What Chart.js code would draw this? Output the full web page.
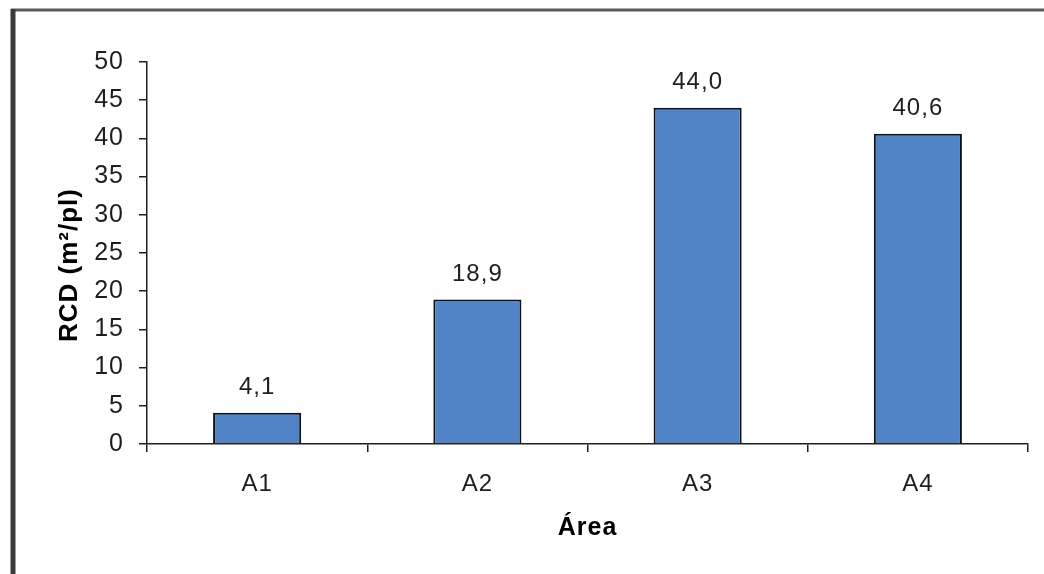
<!DOCTYPE html>
<html>
<head>
<meta charset="utf-8">
<script src="https://cdn.jsdelivr.net/npm/chart.js@4/dist/chart.umd.min.js"></script>
<style>
  html, body { margin: 0; padding: 0; background: #fff; }
  #wrap { position: relative; width: 1044px; height: 574px; }
</style>
</head>
<body>
<div id="wrap"><canvas id="c" width="1044" height="574"></canvas></div>
<script>
// Áreas avaliadas e respectivos valores de RCD (m²/pl)
const areas = ['A1', 'A2', 'A3', 'A4'];
const rcdValues = [4.1, 18.9, 44.0, 40.6];
const yTicks = [0, 5, 10, 15, 20, 25, 30, 35, 40, 45, 50];
const yTitle = 'RCD (m²/pl)';
const xTitle = 'Área';

const FONT = '"Liberation Sans", Arial, sans-serif';
const INK = '#1e1e1e';

// Moldura do gráfico (bordas superior e esquerda) e espaçamento do texto
const framePlugin = {
  id: 'frame',
  beforeDraw(chart) {
    const ctx = chart.ctx;
    ctx.save();
    ctx.fillStyle = '#fff';
    ctx.fillRect(0, 0, chart.width, chart.height);
    ctx.strokeStyle = '#5a5a5a';
    ctx.lineWidth = 3;
    ctx.beginPath();
    ctx.moveTo(11, 10);
    ctx.lineTo(chart.width, 10);
    ctx.stroke();
    ctx.strokeStyle = '#3a3a3a';
    ctx.lineWidth = 5;
    ctx.beginPath();
    ctx.moveTo(13, 9);
    ctx.lineTo(13, chart.height);
    ctx.stroke();
    ctx.restore();
    ctx.letterSpacing = '1px';
  }
};

// Título do eixo Y, girado
const yTitlePlugin = {
  id: 'yTitle',
  afterDraw(chart) {
    const ctx = chart.ctx;
    ctx.save();
    ctx.translate(70, 265);
    ctx.rotate(-Math.PI / 2);
    ctx.font = 'bold 26px ' + FONT;
    ctx.fillStyle = '#000';
    ctx.textAlign = 'center';
    ctx.textBaseline = 'middle';
    ctx.fillText(yTitle, 0, 0);
    ctx.restore();
  }
};

// Rótulos de valor acima de cada barra, com vírgula decimal
const valueLabels = {
  id: 'valueLabels',
  afterDatasetsDraw(chart) {
    const ctx = chart.ctx;
    const meta = chart.getDatasetMeta(0);
    ctx.save();
    ctx.font = '24px ' + FONT;
    ctx.fillStyle = INK;
    ctx.textAlign = 'center';
    ctx.textBaseline = 'middle';
    meta.data.forEach((bar, i) => {
      const v = chart.data.datasets[0].data[i];
      ctx.fillText(v.toFixed(1).replace('.', ','), bar.x, bar.y - 25);
    });
    ctx.restore();
  }
};

new Chart(document.getElementById('c'), {
  type: 'bar',
  data: {
    labels: areas,
    datasets: [{
      data: rcdValues,
      backgroundColor: '#5084c6',
      borderColor: '#111',
      borderWidth: 2,
      borderSkipped: 'bottom',
      barPercentage: 0.8,
      categoryPercentage: 0.5
    }]
  },
  options: {
    responsive: false,
    animation: false,
    events: [],
    layout: { padding: { top: 62, right: 16, left: 14, bottom: 0 } },
    plugins: { legend: { display: false }, tooltip: { enabled: false } },
    scales: {
      y: {
        min: 0,
        max: 50,
        afterBuildTicks(scale) { scale.ticks = yTicks.map(v => ({ value: v })); },
        afterFit(scale) { scale.width = 133; },
        border: { color: INK, width: 1.5 },
        grid: { drawOnChartArea: false, drawTicks: true, tickLength: 8, color: INK, lineWidth: 1.5 },
        ticks: { font: { family: FONT, size: 25 }, color: INK, padding: 15 }
      },
      x: {
        offset: true,
        afterFit(scale) { scale.height = 130; },
        border: { color: INK, width: 1.5 },
        grid: { offset: true, drawOnChartArea: false, drawTicks: true, tickLength: 8, color: INK, lineWidth: 1.5 },
        ticks: { font: { family: FONT, size: 24 }, color: INK, padding: 18 },
        title: {
          display: true,
          text: xTitle,
          font: { family: FONT, size: 25, weight: 'bold' },
          color: '#000',
          padding: { top: 0, bottom: 31 }
        }
      }
    }
  },
  plugins: [framePlugin, valueLabels, yTitlePlugin]
});
</script>
</body>
</html>
